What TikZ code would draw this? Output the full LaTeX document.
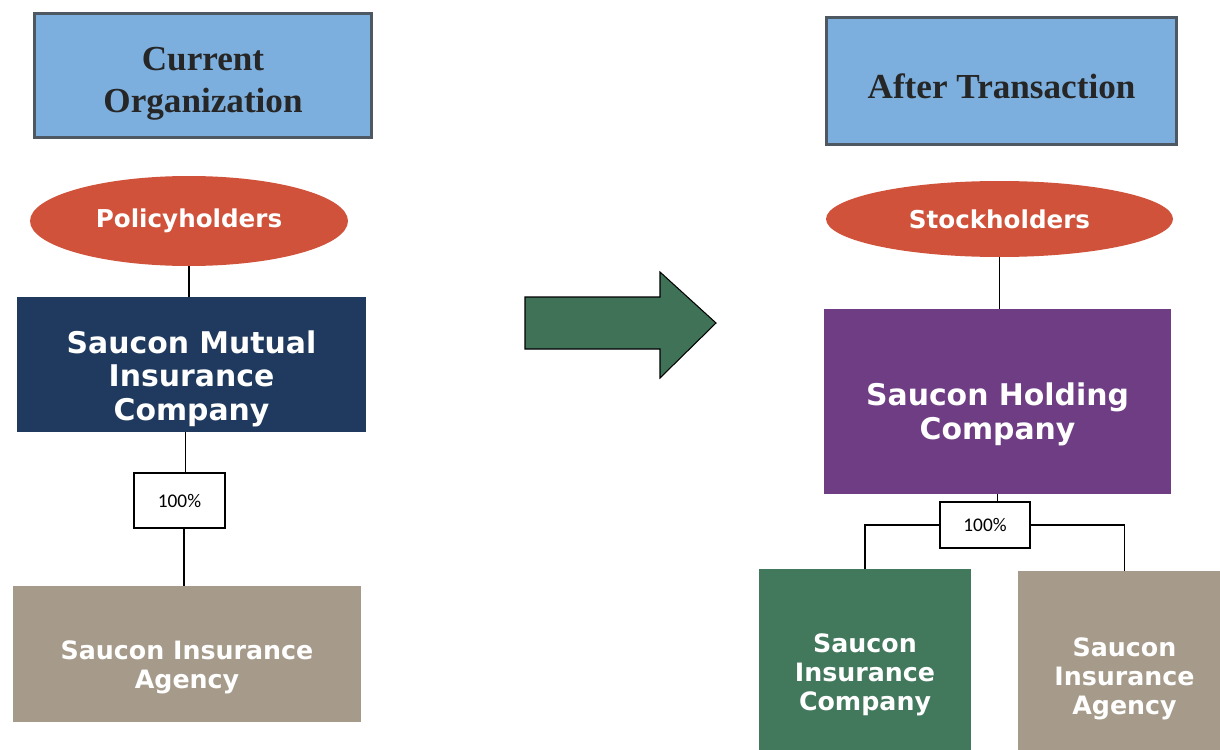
\documentclass[tikz,border=0pt]{standalone}
\usepackage{fontspec}
\setmainfont{Liberation Serif}
\newfontfamily\verdfont{DejaVu Sans}
\newfontfamily\califont{Carlito}
\usetikzlibrary{shapes.geometric}
\definecolor{titleblue}{RGB}{125,175,222}
\definecolor{titleedge}{RGB}{78,88,98}
\definecolor{ownerred}{RGB}{208,82,58}
\definecolor{mutualnavy}{RGB}{31,58,94}
\definecolor{agencytaupe}{RGB}{166,155,139}
\definecolor{holdpurple}{RGB}{111,61,132}
\definecolor{insgreen}{RGB}{66,120,92}

\begin{document}
\begin{tikzpicture}[x=0.02cm, y=-0.02cm,
    title/.style = {draw=titleedge, line width=1.7pt, fill=titleblue, inner sep=0pt},
    titletext/.style = {align=center, text=black!85, inner sep=0pt,
      font=\bfseries\fontsize{20}{24}\selectfont},
    owner/.style = {ellipse, fill=ownerred, inner sep=0pt, text=white,
      font=\verdfont\bfseries\fontsize{14}{16}\selectfont},
    firm/.style = {rectangle, inner sep=0pt},
    firmtext/.style = {align=center, text=white, inner sep=0pt,
      font=\verdfont\bfseries\fontsize{17}{19}\selectfont},
    subtext/.style = {firmtext, font=\verdfont\bfseries\fontsize{14.4}{16.5}\selectfont},
    pct/.style = {draw, fill=white, line width=0.8pt, inner sep=0pt,
      font=\califont\fontsize{11}{13}\selectfont},
    link/.style = {line width=0.9pt}]
  \clip (0,0) rectangle (1220,750);
  % current organization
  \node[title, minimum width=6.76cm, minimum height=2.5cm,
    label={[titletext, yshift=-4.5pt]center:Current\\Organization}] (t1) at (203,75.5) {};
  \node[owner, minimum width=6.36cm, minimum height=1.8cm] (o1) at (189,221) {Policyholders};
  \node[firm, fill=mutualnavy, minimum width=6.98cm, minimum height=2.7cm,
    label={[firmtext, yshift=-8pt]center:Saucon Mutual\\Insurance\\Company}] (m1) at (191.5,364.5) {};
  \node[pct, minimum width=1.82cm, minimum height=1.1cm] (p1) at (179.5,500.5) {100\%};
  \node[firm, fill=agencytaupe, minimum width=6.96cm, minimum height=2.72cm,
    label={[subtext, yshift=-7.4pt]center:Saucon Insurance\\Agency}] (a1) at (187,654) {};
  \draw[link] (o1.south) -- (o1.south |- m1.north);
  \draw[link] ([xshift=0.12cm]p1.north) -- ([xshift=0.12cm]p1.north |- m1.south);
  \draw[link] ([xshift=0.09cm]p1.south) -- ([xshift=0.09cm]p1.south |- a1.north);
  % arrow
  \draw[fill=insgreen!95!black, line width=0.6pt]
    (525,297) -- (660,297) -- (660,272) -- (716,323) -- (660,378) -- (660,349) -- (525,349) -- cycle;
  % after transaction
  \node[title, minimum width=7.02cm, minimum height=2.56cm,
    label={[titletext, yshift=-3pt]center:After Transaction}] (t2) at (1001.5,81) {};
  \node[owner, minimum width=6.94cm, minimum height=1.52cm] (o2) at (999.5,219) {Stockholders};
  \node[firm, fill=holdpurple, minimum width=6.94cm, minimum height=3.7cm,
    label={[firmtext, yshift=-7.4pt]center:Saucon Holding\\Company}] (h2) at (997.5,401.5) {};
  \node[pct, minimum width=1.8cm, minimum height=0.92cm] (p2) at (985,525) {100\%};
  \node[firm, fill=insgreen, minimum width=4.24cm, minimum height=4.12cm,
    label={[subtext, yshift=-1.7pt]center:Saucon\\Insurance\\Company}] (c2) at (865,672) {};
  \node[firm, fill=agencytaupe, minimum width=4.26cm, minimum height=4.08cm,
    label={[subtext, yshift=-3.4pt]center:Saucon\\Insurance\\Agency}] (a2) at (1124.5,673) {};
  \draw[link] (o2.south) -- (o2.south |- h2.north);
  \draw[link] (h2.south) -- (h2.south |- p2.north);
  \draw[link] (p2.west) -| (c2.north);
  \draw[link] (p2.east) -| (a2.north);
\end{tikzpicture}
\end{document}
